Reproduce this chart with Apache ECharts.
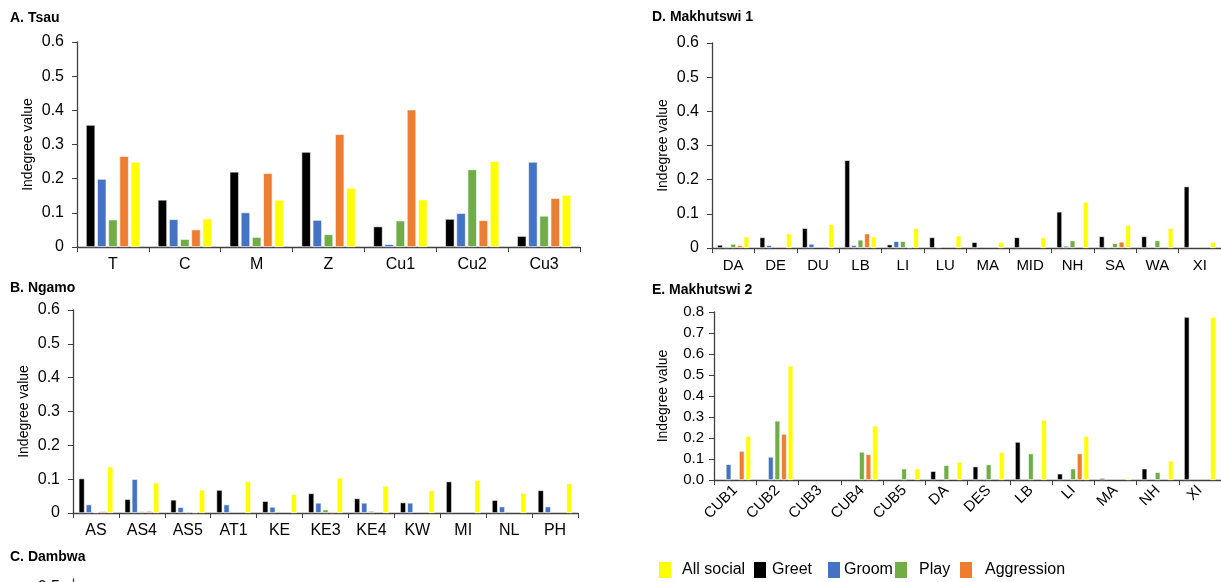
<!DOCTYPE html>
<html><head><meta charset="utf-8">
<style>html,body{margin:0;padding:0;background:#fff;}#c{width:1221px;height:582px;}</style>
<script src="https://cdn.jsdelivr.net/npm/echarts@6/dist/echarts.min.js"></script>
</head><body><div id="c"></div>
<script>
const seriesNames = ['Greet','Groom','Play','Aggression','All social'];
const legendOrder = ['All social','Greet','Groom','Play','Aggression'];
const colors = {'Greet':'#000000','Groom':'#4472C4','Play':'#70AD47','Aggression':'#ED7D31','All social':'#FFFF00'};

const aCats = ['T','C','M','Z','Cu1','Cu2','Cu3'];
const aGreet = [0.357,0.138,0.220,0.278,0.060,0.082,0.032];
const aGroom = [0.199,0.081,0.101,0.079,0.008,0.099,0.249];
const aPlay  = [0.080,0.023,0.029,0.037,0.077,0.227,0.091];
const aAggr  = [0.266,0.051,0.216,0.330,0.402,0.078,0.143];
const aAll   = [0.249,0.083,0.138,0.173,0.139,0.251,0.152];

const bCats = ['AS','AS4','AS5','AT1','KE','KE3','KE4','KW','MI','NL','PH'];
const bGreet = [0.102,0.041,0.039,0.068,0.035,0.058,0.043,0.031,0.093,0.038,0.067];
const bGroom = [0.025,0.100,0.017,0.025,0.018,0.030,0.030,0.030,0,0.019,0.019];
const bPlay  = [0.002,0.005,0.004,0,0,0.010,0.006,0,0,0,0];
const bAggr  = [0.005,0.006,0.002,0,0,0.004,0,0,0,0,0];
const bAll   = [0.137,0.090,0.069,0.093,0.056,0.104,0.080,0.067,0.097,0.058,0.087];

const dCats = ['DA','DE','DU','LB','LI','LU','MA','MID','NH','SA','WA','XI'];
const dGreet = [0.009,0.031,0.058,0.257,0.010,0.031,0.017,0.031,0.106,0.034,0.034,0.180];
const dGroom = [0.004,0.008,0.012,0.008,0.020,0.003,0,0,0.006,0.003,0,0];
const dPlay  = [0.012,0,0,0.024,0.020,0,0,0,0.022,0.014,0.022,0];
const dAggr  = [0.008,0,0,0.042,0.002,0,0,0,0,0.018,0,0];
const dAll   = [0.033,0.042,0.069,0.033,0.058,0.036,0.017,0.031,0.135,0.067,0.058,0.017];

const eCats = ['CUB1','CUB2','CUB3','CUB4','CUB5','DA','DES','LB','LI','MA','NH','XI'];
const eGreet = [0,0,0,0,0,0.042,0.064,0.181,0.030,0.008,0.054,0.776];
const eGroom = [0.075,0.110,0,0,0,0,0,0,0,0,0,0];
const ePlay  = [0,0.282,0,0.134,0.054,0.070,0.074,0.126,0.054,0,0.037,0];
const eAggr  = [0.138,0.219,0,0.122,0,0,0,0,0.126,0,0,0];
const eAll   = [0.210,0.544,0,0.258,0.054,0.086,0.133,0.286,0.208,0.007,0.091,0.776];

const panels = [
  {title:'A. Tsau', cats:aCats, data:[aGreet,aGroom,aPlay,aAggr,aAll], grid:{left:77,top:42,width:503,height:205}, max:0.6, tx:10, ty:11, rotate:0, fmt:1, name:true, xfs:16},
  {title:'B. Ngamo', cats:bCats, data:[bGreet,bGroom,bPlay,bAggr,bAll], grid:{left:73,top:310,width:505,height:203}, max:0.6, tx:10, ty:281, rotate:0, fmt:1, name:true, xfs:16},
  {title:'C. Dambwa', cats:[], data:null, grid:{left:73,top:579,width:505,height:203}, max:0.6, tx:10, ty:550, rotate:0, fmt:1, name:false, xfs:16},
  {title:'D. Makhutswi 1', cats:dCats, data:[dGreet,dGroom,dPlay,dAggr,dAll], grid:{left:712,top:43,width:510,height:205}, max:0.6, tx:652, ty:10, rotate:0, fmt:1, name:true, xfs:15},
  {title:'E. Makhutswi 2', cats:eCats, data:[eGreet,eGroom,ePlay,eAggr,eAll], grid:{left:714,top:312,width:508,height:168}, max:0.8, tx:652, ty:283, rotate:45, fmt:2, name:true, xfs:15}
];

const FONT = 'Liberation Sans';
const axisColor = '#404040';
const legendPos = [
  {name:'All social', left:657, gap:10},
  {name:'Greet', left:752, gap:5},
  {name:'Groom', left:826, gap:3},
  {name:'Play', left:893, gap:11},
  {name:'Aggression', left:958, gap:12}
];
const option = {
  backgroundColor:'#fff',
  animation:false,
  textStyle:{fontFamily:FONT},
  title:[], grid:[], xAxis:[], yAxis:[], series:[],
  legend: legendPos.map(l => ({
    data:[l.name], left:l.left, top:560, padding:0, icon:'rect', itemWidth:14, itemHeight:18,
    textStyle:{fontFamily:FONT, fontSize:16, color:'#000', padding:[0,0,0,l.gap-5]}
  }))
};
panels.forEach((p,i)=>{
  option.title.push({text:p.title, left:p.tx, top:p.ty, padding:0, textStyle:{fontFamily:FONT,fontSize:14,fontWeight:'bold',color:'#000'}});
  option.grid.push(p.grid);
  option.xAxis.push({
    type:'category', gridIndex:i, data:p.cats,
    axisLine:{lineStyle:{color:axisColor,width:1.3}},
    axisTick:{show:true, length:5, lineStyle:{color:axisColor}},
    axisLabel:{color:'#000', fontSize:p.xfs, rotate:p.rotate, margin: p.rotate? 8:10, interval:0}
  });
  option.yAxis.push({
    type:'value', gridIndex:i, min:0, max:p.max, interval:0.1,
    name: p.name ? 'Indegree value' : '', nameLocation:'middle', nameGap: p.fmt===2?44:42,
    nameTextStyle:{fontFamily:FONT,fontSize:14,color:'#000'},
    splitLine:{show:false},
    axisLine:{show:true, lineStyle:{color:axisColor,width:1.3}},
    axisTick:{show:true, length:5, lineStyle:{color:axisColor}},
    axisLabel:{color:'#000', fontSize: p.fmt===2?15:16, margin: p.fmt===2?10:13,
      formatter: v => p.fmt===2 ? v.toFixed(1) : (v===0 ? '0' : (+v.toFixed(1)).toString())}
  });
  if(p.data){
    p.data.forEach((arr,k)=>{
      const name = seriesNames[k];
      option.series.push({
        type:'bar', name:name, xAxisIndex:i, yAxisIndex:i,
        data: arr.map(v => v===0 ? null : v),
        barGap:'22%', barCategoryGap:'25%',
        itemStyle:{color:colors[name], borderColor:'#ffffff', borderWidth:0.6}
      });
    });
  } else {
    option.series.push({type:'bar', name:'Greet', xAxisIndex:i, yAxisIndex:i, data:[]});
  }
});
const chart = echarts.init(document.getElementById('c'), null, {renderer:'canvas'});
chart.setOption(option);
</script></body></html>
